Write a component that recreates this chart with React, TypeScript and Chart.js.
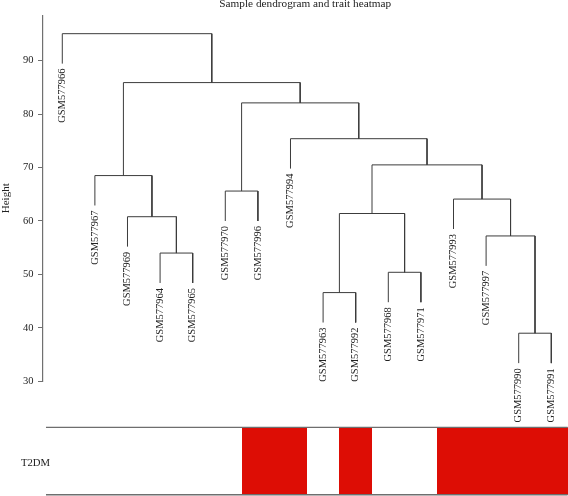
import React, { useEffect, useRef } from 'react';
import { Chart, registerables } from 'chart.js';

Chart.register(...registerables);

// Leaves in dendrogram order
const sampleLabels = [
  'GSM577966', 'GSM577967', 'GSM577969', 'GSM577964', 'GSM577965', 'GSM577970',
  'GSM577996', 'GSM577994', 'GSM577963', 'GSM577992', 'GSM577968', 'GSM577971',
  'GSM577993', 'GSM577997', 'GSM577990', 'GSM577991',
];
// Trait (T2DM) per leaf: 1 = red, 0 = white
const traitT2DM = [0, 0, 0, 0, 0, 0, 1, 1, 0, 1, 0, 0, 1, 1, 1, 1];
// R-style merge matrix: negative = leaf (1-based position), positive = earlier merge step
const mergeLeft = [-15, -9, -11, -4, -14, -3, 2, -13, -6, -2, 7, -8, 9, 10, -1];
const mergeRight = [-16, -10, -12, -5, 1, 4, 3, 5, -7, 6, 8, 11, 12, 13, 14];
const mergeHeights = [39.0, 46.6, 50.4, 54.0, 57.2, 60.8, 61.4, 64.1, 65.6, 68.5, 70.5, 75.4, 82.1, 85.9, 95.05];
const yTicks = [30, 40, 50, 60, 70, 80, 90];
const leafHang = 5.6;
const traitName = 'T2DM';

const FONT = "'Liberation Serif', 'DejaVu Serif', serif";
const LINE = '#3c3c3c';
const RED = 'rgb(221,13,5)';

function buildTree() {
  const leafBottom: number[] = new Array(sampleLabels.length).fill(0);
  const nodeX: number[] = [];
  const segments: { x: number; y: number }[][] = [];
  const childInfo = (c: number, h: number) => {
    if (c < 0) {
      const i = -c - 1;
      leafBottom[i] = h - leafHang;
      return { x: i, y: h - leafHang };
    }
    return { x: nodeX[c - 1], y: mergeHeights[c - 1] };
  };
  for (let m = 0; m < mergeHeights.length; m++) {
    const h = mergeHeights[m];
    const a = childInfo(mergeLeft[m], h);
    const b = childInfo(mergeRight[m], h);
    nodeX.push((a.x + b.x) / 2);
    segments.push([
      { x: a.x, y: a.y },
      { x: a.x, y: h },
      { x: b.x, y: h },
      { x: b.x, y: b.y },
    ]);
  }
  return { leafBottom, segments };
}

export default function App() {
  const ref = useRef<HTMLCanvasElement | null>(null);

  useEffect(() => {
    const canvas = ref.current;
    if (!canvas) return;
    const { leafBottom, segments } = buildTree();

    const overlay = {
      id: 'dendroExtras',
      afterDraw(chart: any) {
        const { ctx, chartArea } = chart;
        const xs = chart.scales.x;
        const ys = chart.scales.y;
        ctx.save();
        // leaf labels
        ctx.fillStyle = '#222';
        ctx.font = `10.5px ${FONT}`;
        ctx.textAlign = 'right';
        ctx.textBaseline = 'middle';
        sampleLabels.forEach((lab, i) => {
          const x = xs.getPixelForValue(i);
          const y = ys.getPixelForValue(leafBottom[i]) + 5;
          ctx.save();
          ctx.translate(x, y);
          ctx.rotate(-Math.PI / 2);
          ctx.fillText(lab, 0, 0);
          ctx.restore();
        });
        // heatmap: draw contiguous runs of the trait so no seams appear
        const top = chartArea.bottom + 46;
        const bottom = top + 67.5;
        const left = xs.getPixelForValue(-0.5);
        const right = xs.getPixelForValue(sampleLabels.length - 0.5);
        ctx.fillStyle = RED;
        let i = 0;
        while (i < traitT2DM.length) {
          if (!traitT2DM[i]) { i++; continue; }
          let j = i;
          while (j + 1 < traitT2DM.length && traitT2DM[j + 1]) j++;
          const x0 = Math.round(xs.getPixelForValue(i - 0.5));
          const x1 = Math.round(xs.getPixelForValue(j + 0.5));
          ctx.fillRect(x0, top, x1 - x0, bottom - top);
          i = j + 1;
        }
        ctx.strokeStyle = '#6e6e6e';
        ctx.lineWidth = 1.2;
        ctx.beginPath();
        ctx.moveTo(left, top);
        ctx.lineTo(right, top);
        ctx.stroke();
        ctx.lineWidth = 1.6;
        ctx.beginPath();
        ctx.moveTo(left, bottom);
        ctx.lineTo(right, bottom);
        ctx.stroke();
        ctx.fillStyle = '#222';
        ctx.font = `10.7px ${FONT}`;
        ctx.textAlign = 'right';
        ctx.textBaseline = 'middle';
        ctx.fillText(traitName, left + 4, (top + bottom) / 2 + 2);
        ctx.restore();
      },
    };

    const chart = new Chart(canvas, {
      type: 'scatter',
      data: {
        datasets: segments.map((pts) => ({
          data: pts,
          showLine: true,
          borderColor: LINE,
          borderWidth: 1,
          pointRadius: 0,
          pointHoverRadius: 0,
          tension: 0,
          fill: false,
        })),
      },
      options: {
        animation: false,
        responsive: false,
        events: [],
        layout: { padding: { left: 0, right: 0, top: 0, bottom: 114.7 } },
        plugins: {
          legend: { display: false },
          tooltip: { enabled: false },
          title: {
            display: true,
            fullSize: false,
            text: 'Sample dendrogram and trait heatmap',
            color: '#222',
            font: { family: FONT, size: 11.25, weight: 'normal', lineHeight: 1 },
            padding: { top: -1.5, bottom: 5.5 },
          },
        },
        scales: {
          x: {
            type: 'linear',
            display: false,
            min: -0.607,
            max: 15.512,
          },
          y: {
            type: 'linear',
            min: 30,
            max: 98.5,
            afterBuildTicks: (scale: any) => {
              scale.ticks = yTicks.map((v) => ({ value: v }));
            },
            afterFit: (scale: any) => {
              scale.width = 42.5;
            },
            border: { display: true, color: '#707070', width: 1.2 },
            grid: {
              display: true,
              drawOnChartArea: false,
              drawTicks: true,
              tickLength: 4.5,
              color: '#707070',
              lineWidth: 1,
            },
            ticks: {
              color: '#222',
              padding: 4.5,
              font: { family: FONT, size: 10.5 },
            },
            title: {
              display: true,
              text: 'Height',
              color: '#222',
              font: { family: FONT, size: 11, lineHeight: 1.2 },
              padding: { top: 0, bottom: 0 },
            },
          },
        },
      },
      plugins: [overlay],
    });
    return () => chart.destroy();
  }, []);

  return (
    <div style={{ position: 'fixed', left: 0, top: 0, width: 568, height: 496, background: '#fff' }}>
      <canvas ref={ref} width={568} height={496} style={{ display: 'block' }} />
    </div>
  );
}
